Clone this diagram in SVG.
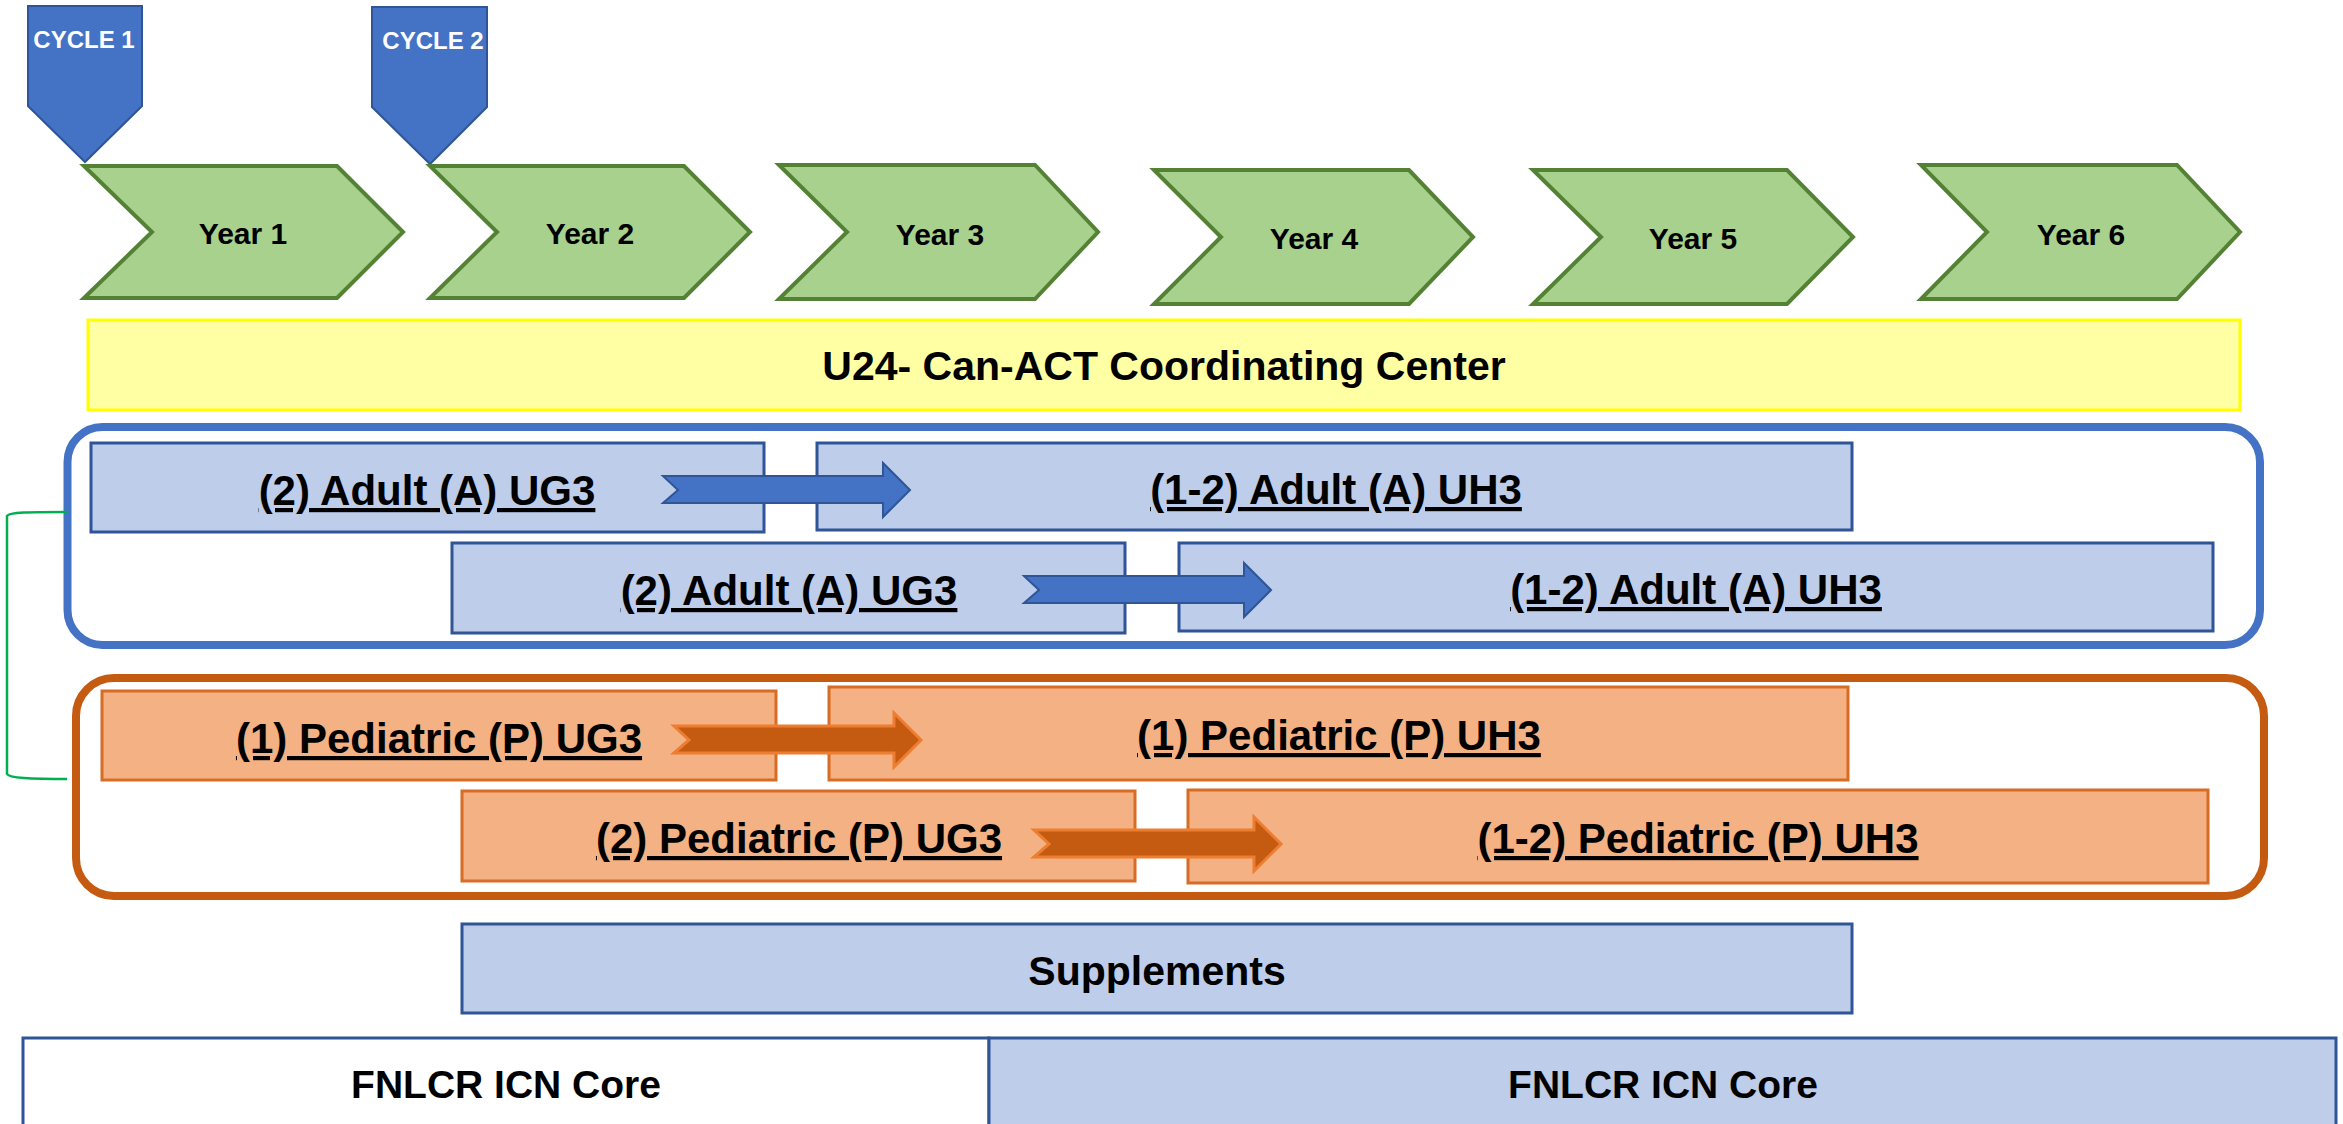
<svg xmlns="http://www.w3.org/2000/svg" width="2343" height="1124" viewBox="0 0 2343 1124">
<style>
text{font-family:"Liberation Sans",Arial,sans-serif;font-weight:bold;text-anchor:middle;fill:#000}
.cyc{fill:#4472C4;stroke:#2F5597;stroke-width:2}
.cyct{fill:#fff;font-size:24px}
.yr{fill:#A9D18E;stroke:#548235;stroke-width:4}
.yrt{font-size:30px}
.blu{fill:#BDCDEA;stroke:#2F5597;stroke-width:3}
.org{fill:#F4B183;stroke:#D86C24;stroke-width:3}
.lbl{font-size:42px;text-decoration:underline}
.big{font-size:41px}
.barrow{fill:#4472C4;stroke:#2F5597;stroke-width:2}
.oarrow{fill:#C55A11;stroke:#ED7D31;stroke-width:3}
</style>
<defs>
<path id="arr" d="M0,0 L220,0 L220,-13 L247,14 L220,41 L220,27 L0,27 L15,14 Z"/>
</defs>
<rect width="2343" height="1124" fill="#fff"/>

<g id="cycle1"><polygon class="cyc" points="28,6 142,6 142,106 85,162 28,106"/><text class="cyct" x="84" y="48">CYCLE 1</text></g>
<g id="cycle2"><polygon class="cyc" points="372,7 487,7 487,107 430,164 372,107"/><text class="cyct" x="433" y="49">CYCLE 2</text></g>

<g id="year1"><polygon class="yr" points="84,166 337,166 403,232 337,298 84,298 152,232"/><text class="yrt" x="243" y="244">Year 1</text></g>
<g id="year2"><polygon class="yr" points="430,166 684,166 750,232 684,298 430,298 497,232"/><text class="yrt" x="590" y="244">Year 2</text></g>
<g id="year3"><polygon class="yr" points="779,165 1035,165 1098,232 1035,299 779,299 847,232"/><text class="yrt" x="940" y="245">Year 3</text></g>
<g id="year4"><polygon class="yr" points="1154,170 1409,170 1473,237 1409,304 1154,304 1221,237"/><text class="yrt" x="1314" y="249">Year 4</text></g>
<g id="year5"><polygon class="yr" points="1533,170 1787,170 1853,237 1787,304 1533,304 1601,237"/><text class="yrt" x="1693" y="249">Year 5</text></g>
<g id="year6"><polygon class="yr" points="1921,165 2177,165 2240,232 2177,299 1921,299 1987,232"/><text class="yrt" x="2081" y="245">Year 6</text></g>

<g id="u24"><rect x="88" y="320" width="2152" height="90" fill="#FFFFA3" stroke="#FFFF00" stroke-width="3"/><text class="big" x="1164" y="380">U24- Can-ACT Coordinating Center</text></g>

<g id="adult-group"><rect x="67.5" y="427" width="2192.5" height="218" rx="35" fill="#fff" stroke="#4472C4" stroke-width="8"/></g>
<g id="ped-group"><rect x="76" y="678" width="2188" height="218" rx="38" fill="#fff" stroke="#C55A11" stroke-width="8"/></g>

<g id="a1-ug3"><rect class="blu" x="91" y="443" width="673" height="89"/><text class="lbl" x="427" y="505">(2) Adult (A) UG3</text></g>
<g id="a1-uh3"><rect class="blu" x="817" y="443" width="1035" height="87"/><text class="lbl" x="1336" y="504">(1-2) Adult (A) UH3</text></g>
<g id="a2-ug3"><rect class="blu" x="452" y="543" width="673" height="90"/><text class="lbl" x="789" y="605">(2) Adult (A) UG3</text></g>
<g id="a2-uh3"><rect class="blu" x="1179" y="543" width="1034" height="88"/><text class="lbl" x="1696" y="604">(1-2) Adult (A) UH3</text></g>

<g id="p1-ug3"><rect class="org" x="102" y="691" width="674" height="89"/><text class="lbl" x="439" y="753">(1) Pediatric (P) UG3</text></g>
<g id="p1-uh3"><rect class="org" x="829" y="687" width="1019" height="93"/><text class="lbl" x="1339" y="750">(1) Pediatric (P) UH3</text></g>
<g id="p2-ug3"><rect class="org" x="462" y="791" width="673" height="90"/><text class="lbl" x="799" y="853">(2) Pediatric (P) UG3</text></g>
<g id="p2-uh3"><rect class="org" x="1188" y="790" width="1020" height="93"/><text class="lbl" x="1698" y="853">(1-2) Pediatric (P) UH3</text></g>

<g id="supplements"><rect class="blu" x="462" y="924" width="1390" height="89"/><text class="big" x="1157" y="985">Supplements</text></g>

<g id="core-left"><rect x="23" y="1038" width="966" height="100" fill="#fff" stroke="#2F5597" stroke-width="3"/><text x="506" y="1098" style="font-size:39px">FNLCR ICN Core</text></g>
<g id="core-right"><rect x="989" y="1038" width="1347" height="100" fill="#BDCDEA" stroke="#2F5597" stroke-width="3"/><text x="1663" y="1098" style="font-size:39px">FNLCR ICN Core</text></g>

<g id="connectors">
<use href="#arr" class="barrow" x="663" y="476"/>
<use href="#arr" class="barrow" x="1024" y="576"/>
<use href="#arr" class="oarrow" x="674" y="726"/>
<use href="#arr" class="oarrow" x="1034" y="830"/>
<path d="M67,512 C30,512 9,512 7,516 L7,774 C9,778 30,779 67,779" fill="none" stroke="#00B050" stroke-width="2.5"/>
</g>
</svg>
